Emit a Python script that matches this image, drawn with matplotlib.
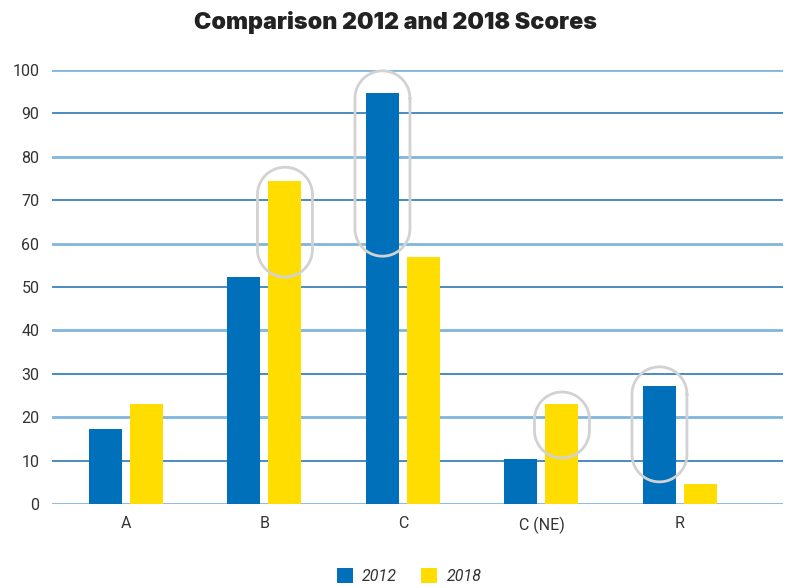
import numpy as np
import matplotlib
matplotlib.use("Agg")
import matplotlib.pyplot as plt

categories = ["A", "B", "C", "C (NE)", "R"]
scores_2012 = [17.3, 52.3, 94.7, 10.4, 27.2]
scores_2018 = [23.0, 74.4, 56.9, 23.0, 4.6]
series_names = ["2012", "2018"]
# highlighted bars: (category index, series index, y low, y high)
highlights = [(1, 1, 52.3, 77.6), (2, 0, 57.1, 99.8), (3, 1, 10.6, 25.8), (4, 0, 5.1, 31.6)]

BLUE, YELLOW = "#0070ba", "#ffdd00"
GRID_LIGHT, GRID_DARK = "#80b6de", "#1a6cad"

fig = plt.figure(figsize=(7.9, 5.88), dpi=100)
ax = fig.add_axes([52/790, 84/588, 731/790, 434/588])

x = np.arange(len(categories))
w, off = 0.238, 0.148
ax.bar(x - off, scores_2012, w, color=BLUE, label=series_names[0], zorder=3)
ax.bar(x + off, scores_2018, w, color=YELLOW, label=series_names[1], zorder=3)

ax.set_xlim(-0.534, 4.744)
ax.set_ylim(0, 100)

for v in range(0, 101, 10):
    if v % 20 == 0:
        ax.axhline(v, color=GRID_LIGHT, lw=2.0, zorder=1)
    else:
        ax.axhline(v, color=GRID_DARK, lw=1.1, zorder=1)

# stadium outlines around the highlighted bars (semicircles in screen space)
px_x = 731 / (4.744 + 0.534)
px_y = 434 / 100
r = 27.5  # pixels
t = np.linspace(0, np.pi, 40)
for ci, si, lo, hi in highlights:
    cx = ci + (off if si else -off)
    top_c = hi - r / px_y
    bot_c = lo + r / px_y
    xs = np.concatenate([cx + r * np.cos(t) / px_x, cx + r * np.cos(t + np.pi) / px_x, [cx + r / px_x]])
    ys = np.concatenate([top_c + r * np.sin(t) / px_y, bot_c + r * np.sin(t + np.pi) / px_y, [top_c]])
    ax.plot(xs, ys, color="#d2d2d2", lw=2.0, zorder=4, clip_on=False, solid_joinstyle="round")

for s in ax.spines.values():
    s.set_visible(False)
ax.set_yticks(range(0, 101, 10))
ax.set_xticks(x)
ax.set_xticklabels(categories)
ax.tick_params(length=0, labelsize=11.5, labelcolor="#333333", pad=9)
for lab in ax.get_yticklabels() + ax.get_xticklabels():
    lab.set_family("Roboto")

fig.text(0.5, 0.962, "Comparison 2012 and 2018 Scores", ha="center", va="center",
         fontsize=16.8, fontweight="black", family="Inter", color="#222222")

leg = fig.legend(loc="center", bbox_to_anchor=(0.518, 0.02), ncol=2, frameon=False,
                 handlelength=1.0, handleheight=1.0, columnspacing=1.5, handletextpad=0.6,
                 prop={"family": "Roboto", "style": "italic", "size": 11.5})
for txt in leg.get_texts():
    txt.set_color("#333333")

fig.savefig("out.png", dpi=100, facecolor="white")
